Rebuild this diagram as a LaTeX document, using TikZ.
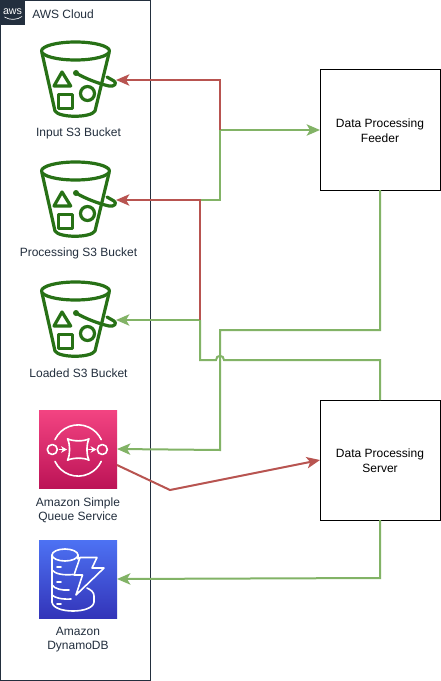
\documentclass[tikz,border=0pt]{standalone}
\usepackage{fontspec}
\setmainfont{Liberation Sans}
\usetikzlibrary{arrows.meta,calc}
\definecolor{awsdark}{HTML}{232F3E}
\definecolor{bucketgreen}{HTML}{277116}
\definecolor{lgreen}{HTML}{82B366}
\definecolor{lred}{HTML}{B85450}
\definecolor{sqstop}{HTML}{F34482}
\definecolor{sqsbot}{HTML}{BC1356}
\definecolor{dyntop}{HTML}{4D72F3}
\definecolor{dynbot}{HTML}{3334B9}
\tikzset{
  x=0.75pt,y=-0.75pt,
  iconbox/.style={minimum width=57pt,minimum height=57pt,inner sep=0pt,outer sep=0pt},
  iconlabel/.style={font=\fontsize{9}{10.5}\selectfont,text=awsdark,align=center,inner sep=0pt},
  procbox/.style={draw=black,line width=0.75pt,fill=white,minimum width=90pt,minimum height=90pt,inner sep=0pt,outer sep=0pt},
  proctext/.style={font=\fontsize{9}{11.25}\selectfont,align=center,inner sep=0pt},
  gline/.style={draw=lgreen,line width=1.5pt},
  rline/.style={draw=lred,line width=1.5pt},
  tip/.style={-{Stealth[length=10pt,width=8.5pt,inset=2.5pt]}},
  bucketline/.style={draw=bucketgreen,line width=2.4pt,line cap=round,line join=round},
  whiteline/.style={draw=white,line width=1.2pt,line join=round,line cap=round},
  pics/bucket/.style={code={
    \draw[bucketline] (-2.5,-29) ellipse [x radius=34,y radius=9];
    \draw[bucketline] (-36,-27) -- (-23,31) .. controls (-19,38) and (13,38) .. (17,31) -- (31,-27);
    \draw[bucketline] (-2,-7) .. controls (8,-1) and (22,4) .. (31,6) .. controls (37,7) and (39,3) .. (36,1) .. controls (34,0) and (31,-2) .. (29,-3);
    \fill[bucketgreen] (-2,-7) circle (3);
    \draw[bucketline] (-16,-8) -- (-24,6) -- (-7.3,6) -- cycle;
    \draw[bucketline] (-19.7,14.3) rectangle (-5.3,28.3);
    \draw[bucketline] (9.5,13.5) circle (7);
  }}
}
\begin{document}
\begin{tikzpicture}
\useasboundingbox (0,0) rectangle (441,681);
\fill[white] (0,0) rectangle (441,681);
% cloud frame
\node[draw=awsdark,line width=0.75pt,minimum width=112.5pt,minimum height=510pt,inner sep=0pt,outer sep=0pt] (cloud) at (75.5,340.5) {};
\node[fill=awsdark,minimum width=18.75pt,minimum height=18.75pt,inner sep=0pt,outer sep=0pt,text=white,font=\fontsize{8}{8}\selectfont] (logo) at (12.5,12.5) {\raisebox{1.5pt}{aws}};
\draw[white,line width=0.5pt] (4.5,17) .. controls (10,20.5) and (17,20) .. (22,16.5);
\node[iconlabel,anchor=west] (cloudlabel) at (32,14) {AWS Cloud};
% buckets
\node[iconbox] (b1) at (78,80) {};
\node[iconbox] (b2) at (78,200) {};
\node[iconbox] (b3) at (78,320) {};
\pic at (b1.center) {bucket};
\pic at (b2.center) {bucket};
\pic at (b3.center) {bucket};
\node[iconlabel] (l1) at (78.5,133) {Input S3 Bucket};
\node[iconlabel] (l2) at (78.5,253) {Processing S3 Bucket};
\node[iconlabel] (l3) at (78.5,373) {Loaded S3 Bucket};
% SQS
\node[iconbox,minimum width=58.5pt,minimum height=58.5pt,top color=sqstop,bottom color=sqsbot] (sqs) at (78,449) {};
\begin{scope}
\draw[whiteline] (55,439.6) arc[start angle=205,end angle=335,radius=25.5];
\draw[whiteline] (55,461.4) arc[start angle=155,end angle=25,radius=25.5];
\draw[whiteline] (52.3,449.5) circle (5);
\draw[whiteline] (102.3,449.5) circle (5);
\draw[whiteline] (67.5,438.8) .. controls (73,441.5) and (84,441.5) .. (89,438.8) .. controls (86.3,444) and (86.3,455) .. (89,460.2) .. controls (84,457.5) and (73,457.5) .. (67.5,460.2) .. controls (70.2,455) and (70.2,444) .. (67.5,438.8) -- cycle;
\draw[whiteline,-{Stealth[length=4.5pt,width=5pt]}] (59.5,449.5) -- (67,449.5);
\draw[whiteline,-{Stealth[length=4.5pt,width=5pt]}] (89,449.5) -- (96.5,449.5);
\end{scope}
\node[iconlabel] (l4) at (78,510) {Amazon Simple\\Queue Service};
% DynamoDB
\node[iconbox,minimum width=58.5pt,minimum height=58.5pt,top color=dyntop,bottom color=dynbot] (dyn) at (78,579) {};
\begin{scope}
\draw[whiteline] (65,555) ellipse [x radius=13,y radius=6];
\draw[whiteline] (52,555) -- (52,602);
\draw[whiteline] (78,555) -- (78,559);
\draw[whiteline] (52,570) .. controls (55,574) and (64,575.5) .. (73,574.5);
\draw[whiteline] (52,585) .. controls (55,589) and (62,590.5) .. (69,590);
\draw[whiteline] (52,595) .. controls (55,598) and (62,599.5) .. (71,599);
\draw[whiteline] (52,602) .. controls (53,614) and (93,614) .. (94,602) -- (94,596) .. controls (94,592) and (91,590) .. (87,588);
\draw[whiteline] (57,567) -- (61,567);
\draw[whiteline] (57,582) -- (61,582);
\draw[whiteline] (57,604) -- (61,604);
\draw[whiteline] (80,557.5) -- (97,557.5) -- (92,568) -- (104,568) -- (76,595) -- (82.5,575) -- (74,575) -- cycle;
\end{scope}
\node[iconlabel] (l5) at (78,640) {Amazon\\DynamoDB};
% process boxes
\node[procbox] (feeder) at (380,130) {};
\node[procbox] (server) at (380,460) {};
\node[proctext] (feedertext) at (380,131) {Data Processing\\Feeder};
\node[proctext] (servertext) at (380,461) {Data Processing\\Server};
% junctions
\coordinate (j1) at (220,130);
\coordinate (j2) at (200,200);
\coordinate (j3) at (200,320);
\coordinate (j4) at (200,360);
\coordinate (j5) at (380,360);
\coordinate (j6) at (380,330);
\coordinate (j7) at (220,330);
\coordinate (j8) at (220,450);
\coordinate (j9) at (170,490);
\coordinate (j10) at (380,578);
\coordinate (sqsout) at ($(sqs.east)+(0,16)$);
% green connectors
\draw[gline,tip] (j2) -| (j1) -- (feeder.west);
\draw[gline] (j3) -- (j4) -- (216,360) .. controls (216,354.5) and (224,354.5) .. (224,360) -- (j5) -- (server.north);
\draw[gline,tip] (j3) -- (b3.east);
\draw[gline,tip] (feeder.south) -- (j6) -- (j7) -- (j8) -- (sqs.east);
\draw[gline,tip] (server.south) -- (j10) -- (dyn.east);
% red connectors
\draw[rline,tip] (j1) |- (b1.east);
\draw[rline,tip] (j3) -- (j2) -- (b2.east);
\draw[rline,tip] (sqsout) -- (j9) -- (server.west);
\end{tikzpicture}
\end{document}
